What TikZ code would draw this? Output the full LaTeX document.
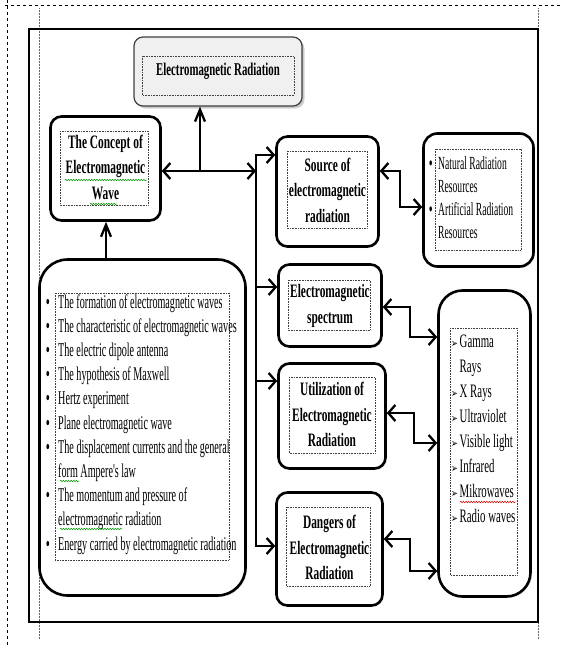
\documentclass[tikz,border=0pt]{standalone}
\usepackage{fontspec}
\setmainfont{Liberation Serif}
\newfontfamily\ttlf[FakeStretch=0.6]{Liberation Serif}
\newfontfamily\lstf[FakeStretch=0.52]{Liberation Serif}
\newfontfamily\spcf[FakeStretch=0.57]{Liberation Serif}
\newfontfamily\djv[FakeStretch=0.7]{DejaVu Sans}
\usetikzlibrary{arrows.meta,shadows,decorations.pathmorphing}
\newcommand\itm{\strut\makebox[12pt][l]{\bfseries\textbullet}}
\newcommand\cnt{\strut\hspace*{12pt}}
\newcommand\arr{\strut\makebox[8.5pt][l]{\djv\bfseries\fontsize{11.5}{11.5}\selectfont ➢}}
\newcommand\acnt{\strut\hspace*{8.5pt}}
\begin{document}
\begin{tikzpicture}[x=1pt,y=-1pt,
  box/.style={draw, line width=2.6pt, rounded corners=11pt, inner sep=0pt, align=center,
    fill=white, drop shadow={shadow xshift=1.5pt,shadow yshift=-1.5pt,opacity=0.18},
    font=\ttlf\bfseries\fontsize{19}{25.5}\selectfont},
  listbox/.style={box, rounded corners=28pt},
  inner/.style={densely dotted, line width=0.6pt, black!75},
  conn/.style={line width=2.3pt},
  harr/.style={conn, -{Straight Barb[length=7pt,width=16pt]}},
  dblh/.style={conn, {Straight Barb[length=7pt,width=16pt]}-{Straight Barb[length=7pt,width=16pt]}},
  varr/.style={conn, -{Straight Barb[length=12pt,width=10pt]}},
  wavyg/.style={decorate, decoration={snake,amplitude=0.8pt,segment length=2.6pt}, green!60!black, line width=0.5pt},
  wavyr/.style={wavyg, red!85!black},
  txt/.style={inner sep=0pt, align=left, anchor=north west}
]
\useasboundingbox (0,0) rectangle (561,646);
% page frame
\draw[dashed, line width=0.8pt] (5,5) -- (561,5);
\draw[dashed, line width=0.8pt] (7,0) -- (7,646);
\draw[densely dotted, line width=0.5pt, black!60] (39,8) -- (39,639);
\draw[densely dotted, line width=0.5pt, black!60] (538,8) -- (538,639);
\draw[line width=2.4pt] (29,29) rectangle (538,622);

% boxes
\node[box, line width=1.2pt, draw=black!75, fill=gray!12, rounded corners=9pt,
  drop shadow={shadow xshift=2.5pt,shadow yshift=-2.5pt,opacity=0.35},
  minimum width=168pt, minimum height=69pt, font=\ttlf\bfseries\fontsize{18}{22}\selectfont]
  (top) at (218,71.5) {Electromagnetic Radiation};
\node[box, minimum width=110pt, minimum height=104pt] (cpt) at (105.5,168.5)
  {\strut The Concept of\\\strut Electromagnetic\\\strut Wave};
\node[listbox, minimum width=206pt, minimum height=336pt] (lst) at (142.5,427.5) {};
\node[box, minimum width=102pt, minimum height=110pt] (src) at (327.5,191.5)
  {\strut Source of\\\strut electromagnetic\\\strut radiation};
\node[box, rounded corners=14pt, minimum width=110pt, minimum height=133pt] (nat) at (478.5,200) {};
\node[box, minimum width=103pt, minimum height=82pt] (spc) at (330,305.5)
  {\strut Electromagnetic\\\strut spectrum};
\node[box, minimum width=107pt, minimum height=105pt] (utl) at (332,416)
  {\strut Utilization of\\\strut Electromagnetic\\\strut Radiation};
\node[box, minimum width=106pt, minimum height=113pt] (dng) at (329.5,549)
  {\strut Dangers of\\\strut Electromagnetic\\\strut Radiation};
\node[listbox, rounded corners=24pt, minimum width=92pt, minimum height=306pt] (rng) at (484.5,443.5) {};

% inner dotted text frames
\draw[inner] (142,56) rectangle (294,95);
\draw[inner] (60,131) rectangle (148,205);
\draw[inner] (55,293) rectangle (229,560);
\draw[inner] (287,151) rectangle (367,228);
\draw[inner] (435,149) rectangle (521,250);
\draw[inner] (288,280) rectangle (370,330);
\draw[inner] (289,377) rectangle (375,453);
\draw[inner] (286,507) rectangle (370,586);
\draw[inner] (450,328) rectangle (517,575);

% list texts
\node[txt, font=\lstf\fontsize{19.5}{24.2}\selectfont] (lstT) at (46,291) {%
\itm The formation of electromagnetic waves\\
\itm The characteristic of electromagnetic waves\\
\itm The electric dipole antenna\\
\itm The hypothesis of Maxwell\\
\itm Hertz experiment\\
\itm Plane electromagnetic wave\\
\itm The displacement currents and the general\\
\cnt form Ampere's law\\
\itm The momentum and pressure of\\
\cnt electromagnetic radiation\\
\itm Energy carried by electromagnetic radiation};
\node[txt, font=\lstf\fontsize{18.5}{23}\selectfont] (natT) at (429,153) {%
\makebox[9pt][l]{\strut\bfseries\textbullet}Natural Radiation\\
\strut\hspace*{9pt}Resources\\
\makebox[9pt][l]{\strut\bfseries\textbullet}Artificial Radiation\\
\strut\hspace*{9pt}Resources};
\node[txt, font=\spcf\fontsize{19}{25}\selectfont] (rngT) at (451,329.5) {%
\arr Gamma\\
\acnt Rays\\
\arr X Rays\\
\arr Ultraviolet\\
\arr Visible light\\
\arr Infrared\\
\arr Mikrowaves\\
\arr Radio waves};

% spell-check underlines
\draw[wavyg] (65,180) -- (147,180);
\draw[wavyg] (90,204) -- (117,204);
\draw[wavyg] (60,481) -- (79,481);
\draw[wavyg] (60,529) -- (122,529);
\draw[wavyr] (460,502) -- (516,502);

% connectors
\coordinate (j1) at (200,171);
\coordinate (busC) at (256,171);
\coordinate (busT) at (256,155);
\coordinate (busB) at (256,546);
\coordinate (b2) at (256,287);
\coordinate (b3) at (256,381);
\draw[dblh] (cpt.east |- busC) -- (busC);
\draw[varr] (j1) -- (j1 |- top.south);
\draw[varr] (lst.north -| 106,0) -- (cpt.south -| 106,0);
\draw[dblh] (src.west |- busT) -- (busT) -- (busB) -- (dng.west |- busB);
\draw[harr] (b2) -- (spc.west |- b2);
\draw[harr] (b3) -- (utl.west |- b3);
\draw[dblh] (src.east |- 0,171) -- ++(20,0) |- (nat.west |- 0,207);
\draw[dblh] (spc.east |- 0,307) -- ++(27,0) |- (rng.west |- 0,337);
\draw[dblh] (utl.east |- 0,413) -- ++(27,0) |- (rng.west |- 0,443);
\draw[dblh] (dng.east |- 0,539) -- ++(26,0) |- (rng.west |- 0,571);
\end{tikzpicture}
\end{document}
